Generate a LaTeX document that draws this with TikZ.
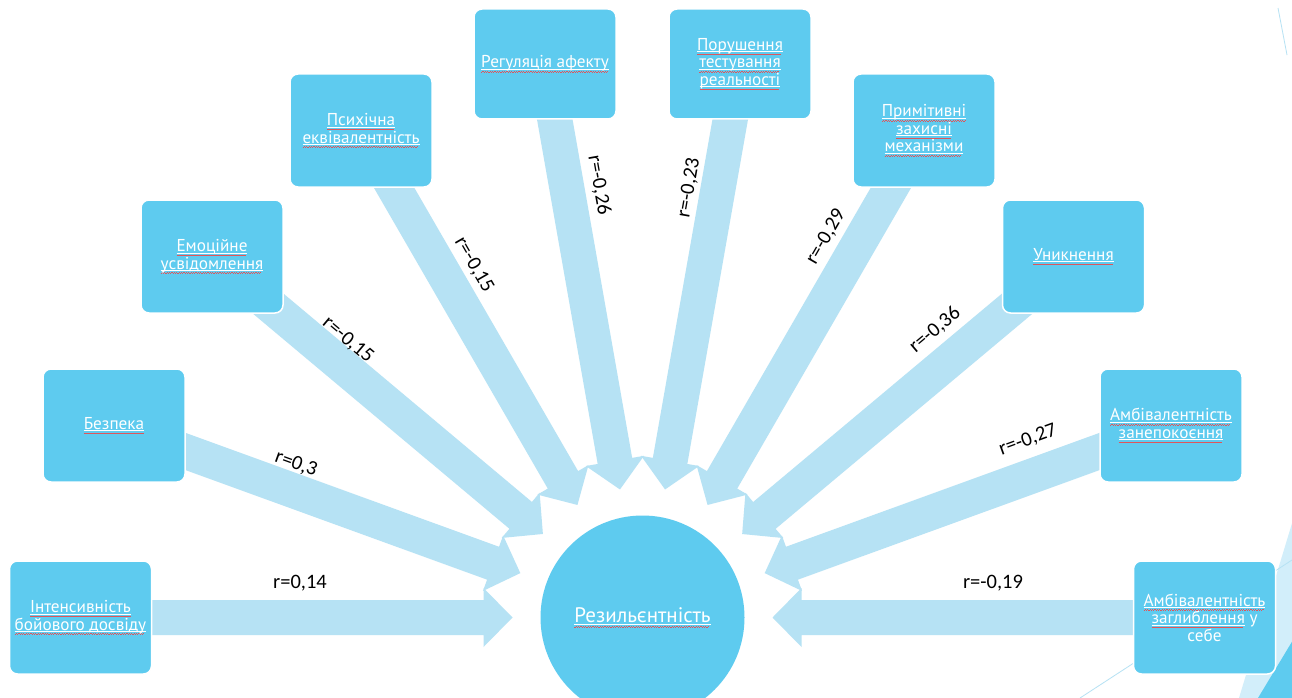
\documentclass[tikz,border=0pt]{standalone}
\usepackage{fontspec}
\setmainfont{PT Sans}
\newfontfamily\labfont{Carlito}
\usetikzlibrary{calc}
\definecolor{boxblue}{HTML}{5ECBEF}
\definecolor{arrowblue}{HTML}{B6E2F4}
\definecolor{paleblue}{HTML}{D2EEFA}
\definecolor{waveRed}{HTML}{E0555A}
\newcommand\sw[1]{\setbox0\hbox{#1}%
  \rlap{\rule[-2.0pt]{\wd0}{0.9pt}}%
  \rlap{\color{waveRed}\leaders\hbox{\rule[-4.4pt]{1.2pt}{0.55pt}\rule[-3.8pt]{1.2pt}{0.55pt}}\hskip\wd0}%
  \box0\relax}
\pgfdeclarelayer{bg}
\pgfsetlayers{bg,main}
\newcommand\blockarrow[1]{%
 \fill[arrowblue] let \p1=($(#1.center)-(res.center)$), \n1={atan2(\y1,\x1)} in
  ($(res.center)+(\n1:130pt)$)
  -- ($(res.center)+(\n1:159pt)+(\n1+90:29.5pt)$)
  -- ($(res.center)+(\n1:159pt)+(\n1+90:17.5pt)$)
  -- ($(#1.center)+(\n1+90:17.5pt)$)
  -- ($(#1.center)+(\n1-90:17.5pt)$)
  -- ($(res.center)+(\n1:159pt)+(\n1-90:17.5pt)$)
  -- ($(res.center)+(\n1:159pt)+(\n1-90:29.5pt)$) -- cycle;}
\tikzset{
  box/.style={rectangle, rounded corners=8pt, fill=boxblue, draw=white, line width=1.5pt,
    minimum width=142pt, minimum height=113pt, text=white, align=center,
    font=\fontsize{17.2}{17.5}\selectfont, inner sep=2pt},
  topbox/.style={box, minimum height=110pt},
  lab/.style={font=\labfont\fontsize{20.5}{24}\selectfont, text=black, inner sep=1pt},
  deco/.style={draw=arrowblue, line width=0.8pt}
}
\begin{document}
\begin{tikzpicture}[x=1pt, y=-1pt]
\useasboundingbox (0,0) rectangle (1292,698);
% target circle
\begin{scope}
  \clip (0,0) rectangle (1292,698);
  \node[circle, fill=boxblue, minimum size=204pt, inner sep=0pt, text=white,
        font=\fontsize{21}{22}\selectfont] (res) at (642.5,617.5) {\sw{Резильєнтність}};
  % slide decoration bottom right
  \fill[paleblue] (1293,520) -- (1293,698) -- (1239,698) -- cycle;
  \fill[boxblue] (1293,640) -- (1293,698) -- (1258,698) -- cycle;
  \draw[deco] (1080,698) -- (1292,560);
  \draw[deco] (1278,8) -- (1287,55);
\end{scope}
% boxes
\node[box] (b1) at (80.5,617.5) {\sw{Інтенсивність}\\\sw{бойового досвіду}};
\node[box] (b2) at (114,425.5) {\sw{Безпека}};
\node[box] (b3) at (212,256.5) {\sw{Емоційне}\\\sw{усвідомлення}};
\node[box] (b4) at (361,130.5) {\sw{Психічна}\\\sw{еквівалентність}};
\node[topbox] (b5) at (545,64) {\sw{Регуляція афекту}};
\node[topbox] (b6) at (740,64) {\sw{Порушення}\\\sw{тестування}\\\sw{реальності}};
\node[box] (b7) at (924,130.5) {\sw{Примітивні}\\\sw{захисні}\\\sw{механізми}};
\node[box] (b8) at (1073.5,256.5) {\sw{Уникнення}};
\node[box] (b9) at (1171,425.5) {\sw{Амбівалентність}\\\sw{занепокоєння}};
\node[box] (b10) at (1204.5,617.5) {\sw{Амбівалентність}\\\sw{заглиблення} у\\себе};
% arrows (behind the boxes)
\begin{pgfonlayer}{bg}
  \fill[white] (0,0) rectangle (1292,698);
  \blockarrow{b1}
  \blockarrow{b2}
  \blockarrow{b3}
  \blockarrow{b4}
  \blockarrow{b5}
  \blockarrow{b6}
  \blockarrow{b7}
  \blockarrow{b8}
  \blockarrow{b9}
  \blockarrow{b10}
\end{pgfonlayer}
% correlation labels
\node[lab] (l1) at (300,583) {r=0,14};
\node[lab, rotate=-20] (l2) at (296,464) {r=0,3};
\node[lab, rotate=-40] (l3) at (348,340) {r=-0,15};
\node[lab, rotate=-60] (l4) at (474,265) {r=-0,15};
\node[lab, rotate=-80] (l5) at (599,185) {r=-0,26};
\node[lab, rotate=80] (l6) at (689,188) {r=-0,23};
\node[lab, rotate=60] (l7) at (826,237) {r=-0,29};
\node[lab, rotate=40] (l8) at (935,330) {r=-0,36};
\node[lab, rotate=20] (l9) at (1028,440) {r=-0,27};
\node[lab] (l10) at (993,583) {r=-0,19};
\end{tikzpicture}
\end{document}
